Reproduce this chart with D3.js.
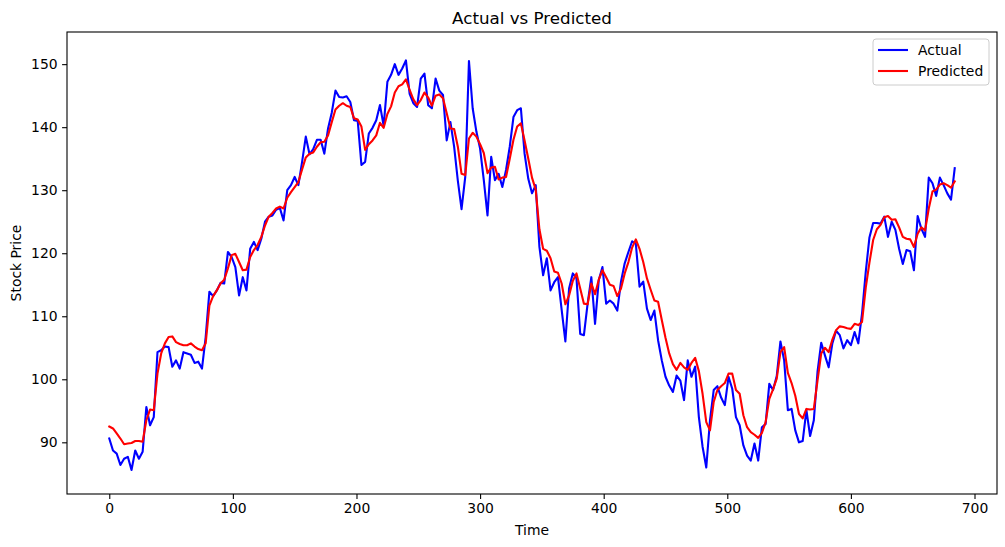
<!DOCTYPE html>
<html>
<head>
<meta charset="utf-8">
<script src="https://cdn.jsdelivr.net/npm/d3@7"></script>
<style>
  body { margin: 0; background: #fff; }
  svg { font-family: "DejaVu Sans", sans-serif; }
</style>
</head>
<body>
<div class="chart"></div>
<script>
const timeStep = 3

const actual = [
  90.6, 88.7, 88.2, 86.4, 87.4, 87.7, 85.6, 88.7, 87.4, 88.5,
  95.6, 92.7, 94.0, 104.3, 104.6, 105.2, 105.1, 102.0, 103.0, 101.7,
  104.3, 104.1, 103.9, 102.6, 102.8, 101.7, 106.7, 113.9, 113.2, 114.1,
  115.3, 115.2, 120.2, 119.4, 117.8, 113.3, 116.2, 114.1, 120.7, 121.8,
  120.5, 122.3, 125.0, 125.8, 126.0, 126.9, 127.2, 125.2, 130.0, 130.8,
  132.1, 130.8, 134.5, 138.5, 135.7, 136.5, 138.0, 138.0, 135.8, 139.8,
  142.3, 145.8, 144.8, 144.7, 144.9, 144.0, 141.1, 141.0, 134.0, 134.5,
  139.0, 139.9, 141.1, 143.5, 140.2, 147.2, 148.3, 150.0, 148.3, 149.3,
  150.6, 145.3, 143.8, 143.2, 147.7, 148.5, 143.5, 143.0, 147.7, 145.8,
  145.1, 137.9, 140.8, 136.9, 131.5, 127.0, 132.1, 150.5, 143.0, 139.3,
  136.6, 131.6, 126.0, 135.3, 131.6, 132.6, 130.5, 133.2, 136.9, 141.6,
  142.7, 143.0, 135.8, 131.8, 129.5, 130.8, 121.0, 116.5, 119.2, 114.1,
  115.4, 116.2, 111.0, 106.0, 114.4, 116.8, 116.0, 107.2, 107.0, 112.0,
  116.2, 108.8, 115.7, 117.8, 112.0, 112.5, 112.0, 110.9, 115.5, 118.4,
  120.2, 121.9, 121.5, 114.7, 115.5, 111.2, 109.4, 110.9, 106.2, 103.0,
  100.4, 99.0, 98.0, 100.6, 99.8, 96.7, 103.0, 100.4, 102.0, 94.0,
  89.3, 86.0, 93.5, 98.3, 98.9, 97.1, 95.9, 100.4, 98.5, 94.0,
  92.7, 89.5, 87.9, 87.1, 89.8, 87.1, 92.4, 92.9, 99.3, 98.3,
  100.5, 106.0, 103.0, 95.1, 95.3, 91.9, 90.0, 90.2, 95.1, 91.0,
  93.5, 101.2, 105.8, 103.8, 101.9, 105.7, 107.7, 107.0, 104.9, 106.2,
  105.4, 107.5, 105.7, 110.4, 117.0, 122.5, 124.8, 124.8, 124.7, 125.8,
  122.6, 125.0, 123.7, 120.7, 118.3, 120.5, 120.3, 117.3, 125.9, 123.9,
  122.6, 132.0, 131.1, 129.1, 132.0, 130.8, 129.5, 128.5, 133.5
]

const predicted = [
  92.5, 92.2, 91.4, 90.6, 89.7, 89.8, 89.9, 90.2, 90.2, 90.1,
  93.5, 95.2, 95.1, 100.9, 104.1, 105.7, 106.7, 106.8, 105.9, 105.6,
  105.4, 105.4, 105.7, 105.2, 104.8, 104.6, 105.7, 111.7, 113.2, 114.1,
  115.2, 115.8, 117.6, 119.7, 119.9, 118.6, 117.3, 117.4, 119.4, 120.5,
  121.3, 122.6, 124.4, 125.8, 126.4, 127.1, 127.4, 127.1, 128.8, 129.7,
  130.5, 131.3, 133.3, 135.2, 135.8, 136.0, 136.9, 137.6, 137.7, 138.7,
  140.8, 142.8, 143.4, 143.8, 143.4, 143.2, 141.4, 141.2, 140.1, 136.4,
  137.3, 137.9, 138.7, 140.7, 139.9, 142.1, 143.3, 145.5, 146.5, 146.8,
  147.6, 145.9, 144.4, 143.5, 144.3, 145.5, 144.7, 143.4, 145.0, 145.2,
  144.6, 142.2, 139.8, 139.7, 136.9, 132.6, 132.4, 138.2, 139.1, 138.5,
  137.3, 135.9, 132.7, 133.6, 133.7, 131.7, 132.0, 132.1, 135.0, 138.0,
  140.1, 140.6, 137.9, 135.0, 132.0, 130.1, 123.8, 120.7, 120.4, 119.2,
  117.1, 116.9, 115.2, 111.9, 113.3, 115.6, 116.8, 114.4, 112.0, 111.9,
  115.2, 113.5, 115.8, 117.3, 116.2, 115.0, 114.8, 113.2, 114.4, 116.8,
  118.6, 120.9, 122.2, 120.7, 118.6, 116.0, 114.2, 112.5, 112.3, 109.4,
  106.6, 104.1, 102.4, 101.5, 102.6, 101.9, 101.5, 102.6, 103.4, 101.3,
  97.7, 93.2, 91.9, 96.4, 98.3, 98.9, 99.4, 100.9, 100.9, 98.3,
  97.7, 94.3, 92.4, 91.6, 91.2, 90.7, 91.5, 93.2, 96.9, 98.4,
  100.1, 104.3, 105.1, 101.0, 99.4, 97.4, 94.5, 93.8, 95.3, 95.2,
  95.3, 99.8, 104.1, 105.0, 104.3, 106.3, 107.8, 108.4, 108.3, 108.1,
  108.0, 108.8, 108.6, 109.1, 114.5, 118.5, 122.1, 123.8, 124.5, 125.7,
  125.9, 125.3, 125.4, 124.1, 122.6, 122.3, 122.2, 121.0, 123.1, 124.1,
  123.6, 127.1, 129.8, 130.1, 130.9, 131.1, 130.8, 130.4, 131.4
]

const xTicks = [0, 100, 200, 300, 400, 500, 600, 700]
const yTicks = [90, 100, 110, 120, 130, 140, 150]

const series = [
  { name: 'Actual', color: '#0000ff', values: actual },
  { name: 'Predicted', color: '#ff0000', values: predicted }
]

const width = 1005, height = 547
const margin = { top: 32, right: 8, bottom: 53, left: 67 }

const svg = d3.select('.chart')
  .append('svg')
  .attr('width', width)
  .attr('height', height)

svg.append('rect').attr('width', width).attr('height', height).attr('fill', '#fff')

// matplotlib style 5% padding around the data
const lastT = (actual.length - 1) * timeStep
const x = d3.scaleLinear()
  .domain([-lastT * 0.05, lastT * 1.05])
  .range([margin.left, width - margin.right])

const y = d3.scaleLinear()
  .domain([81.8, 155.1])
  .range([height - margin.bottom, margin.top])

const line = d3.line()
  .x((d, i) => x(i * timeStep))
  .y(d => y(d))

const plot = svg.append('g')

series.forEach(s => {
  plot.append('path')
    .datum(s.values)
    .attr('fill', 'none')
    .attr('stroke', s.color)
    .attr('stroke-width', 2.1)
    .attr('stroke-linejoin', 'round')
    .attr('stroke-linecap', 'square')
    .attr('d', line)
})

// axes
const xAxis = svg.append('g')
  .attr('transform', `translate(0, ${height - margin.bottom})`)
  .call(d3.axisBottom(x).tickValues(xTicks).tickSize(4.9).tickPadding(4.5).tickSizeOuter(0))
const yAxis = svg.append('g')
  .attr('transform', `translate(${margin.left}, 0)`)
  .call(d3.axisLeft(y).tickValues(yTicks).tickSize(4.9).tickPadding(4.5).tickSizeOuter(0))

;[xAxis, yAxis].forEach(a => {
  a.select('.domain').remove()
  a.selectAll('.tick line').attr('stroke', '#000').attr('stroke-width', 1.1)
  a.selectAll('.tick text')
    .attr('fill', '#000')
    .style('font-family', '"DejaVu Sans", sans-serif')
    .style('font-size', '13.9px')
})

// frame
svg.append('rect')
  .attr('x', margin.left)
  .attr('y', margin.top)
  .attr('width', width - margin.left - margin.right)
  .attr('height', height - margin.top - margin.bottom)
  .attr('fill', 'none')
  .attr('stroke', '#000')
  .attr('stroke-width', 1.1)

// title and labels
svg.append('text')
  .attr('x', (margin.left + width - margin.right) / 2)
  .attr('y', 24)
  .attr('text-anchor', 'middle')
  .style('font-size', '16.7px')
  .text('Actual vs Predicted')

svg.append('text')
  .attr('x', (margin.left + width - margin.right) / 2)
  .attr('y', 535)
  .attr('text-anchor', 'middle')
  .style('font-size', '13.9px')
  .text('Time')

svg.append('text')
  .attr('transform', `translate(21, ${(margin.top + height - margin.bottom) / 2}) rotate(-90)`)
  .attr('text-anchor', 'middle')
  .style('font-size', '13.9px')
  .text('Stock Price')

// legend
const legend = svg.append('g').attr('transform', 'translate(873, 39)')
legend.append('rect')
  .attr('width', 116)
  .attr('height', 46)
  .attr('rx', 3)
  .attr('fill', '#fff')
  .attr('fill-opacity', 0.8)
  .attr('stroke', '#cccccc')
  .attr('stroke-width', 1)

series.forEach((s, i) => {
  const g = legend.append('g').attr('transform', `translate(0, ${11 + i * 21})`)
  g.append('line')
    .attr('x1', 5).attr('x2', 35)
    .attr('stroke', s.color)
    .attr('stroke-width', 2.1)
  g.append('text')
    .attr('x', 45)
    .attr('dy', '0.35em')
    .style('font-size', '13.9px')
    .text(s.name)
})
</script>
</body>
</html>
